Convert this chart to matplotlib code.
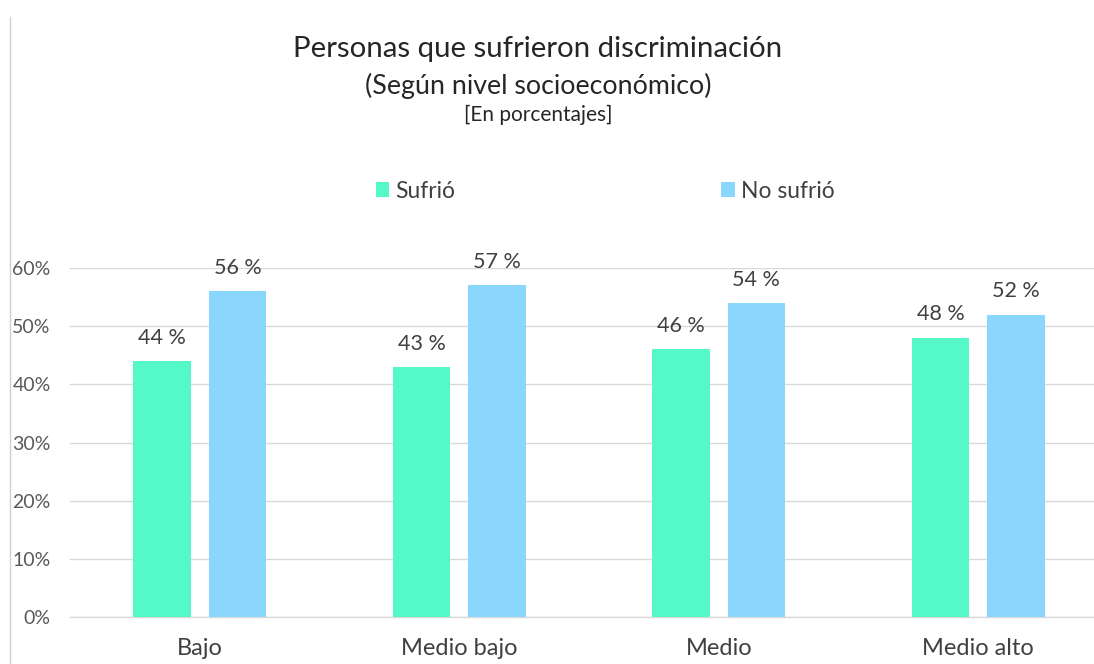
import matplotlib
matplotlib.use("Agg")
import matplotlib.pyplot as plt
import numpy as np
from matplotlib.lines import Line2D
from matplotlib.patches import Patch

categories = ["Bajo", "Medio bajo", "Medio", "Medio alto"]
sufrio = [44, 43, 46, 48]
no_sufrio = [56, 57, 54, 52]
series_names = ["Sufrió", "No sufrió"]
y_ticks = [0, 10, 20, 30, 40, 50, 60]

GREEN = "#55F9C8"
BLUE = "#8BD6FD"
TEXT = "#404040"
GRID = "#D9D9D9"
FONT = "Lato"

plt.rcParams["font.family"] = [FONT, "DejaVu Sans"]

W, H = 1094, 664
fig = plt.figure(figsize=(W / 100, H / 100), dpi=100)

# plot area in pixels: left 70, bottom (0%) at 617, top (60%) at 268, width 4 slots of ~259.5 px
left, right = 70, 70 + 4 * 259.5
bottom, top = 617, 268
ax = fig.add_axes([left / W, 1 - bottom / H, (right - left) / W, (bottom - top) / H])

x = np.arange(len(categories))
bw = 0.222
off = 0.145
b1 = ax.bar(x - off, sufrio, bw, color=GREEN, zorder=3)
b2 = ax.bar(x + off, no_sufrio, bw, color=BLUE, zorder=3)

for bars, vals in ((b1, sufrio), (b2, no_sufrio)):
    for rect, v in zip(bars, vals):
        ax.annotate(f"{v} %", (rect.get_x() + rect.get_width() / 2, v),
                    xytext=(0, 12.5), textcoords="offset points",
                    ha="center", va="baseline", fontsize=15.5, color=TEXT,
                    annotation_clip=False)

ax.set_xlim(-0.5, len(categories) - 0.5)
ax.set_ylim(0, 60)
ax.set_yticks(y_ticks)
ax.set_yticklabels([f"{t}%" for t in y_ticks], fontsize=14, color="#595959")
ax.set_xticks(x)
ax.set_xticklabels(categories, fontsize=17, color=TEXT)
ax.tick_params(axis="y", length=0, pad=14)
ax.tick_params(axis="x", length=0, pad=15)
ax.grid(axis="y", color=GRID, linewidth=1, zorder=0)
for s in ("top", "right", "left"):
    ax.spines[s].set_visible(False)
ax.spines["bottom"].set_color(GRID)
ax.spines["bottom"].set_linewidth(1)
ax.set_axisbelow(True)

# titles
cx = 538 / W
fig.text(cx, 1 - 57 / H, "Personas que sufrieron discriminación",
         ha="center", va="baseline", fontsize=21.2, color="#262626")
fig.text(cx, 1 - 94 / H, "(Según nivel socioeconómico)",
         ha="center", va="baseline", fontsize=19.3, color="#262626")
fig.text(cx, 1 - 121 / H, "[En porcentajes]",
         ha="center", va="baseline", fontsize=15, color="#262626")

handles = [Patch(facecolor=GREEN, edgecolor="none"), Patch(facecolor=BLUE, edgecolor="none")]
fig.legend(handles, series_names, loc="center", bbox_to_anchor=(605 / W, 1 - 191 / H),
           ncol=2, frameon=False, fontsize=16.5, labelcolor=TEXT,
           handlelength=0.6, handleheight=0.6, handletextpad=0.25,
           columnspacing=11.6, borderpad=0, borderaxespad=0)

# container border on the left
fig.add_artist(Line2D([9.5 / W, 9.5 / W], [0, 1 - 17 / H], color="#D0D0D0",
                      linewidth=1, transform=fig.transFigure))

fig.savefig("out.png", dpi=100)
